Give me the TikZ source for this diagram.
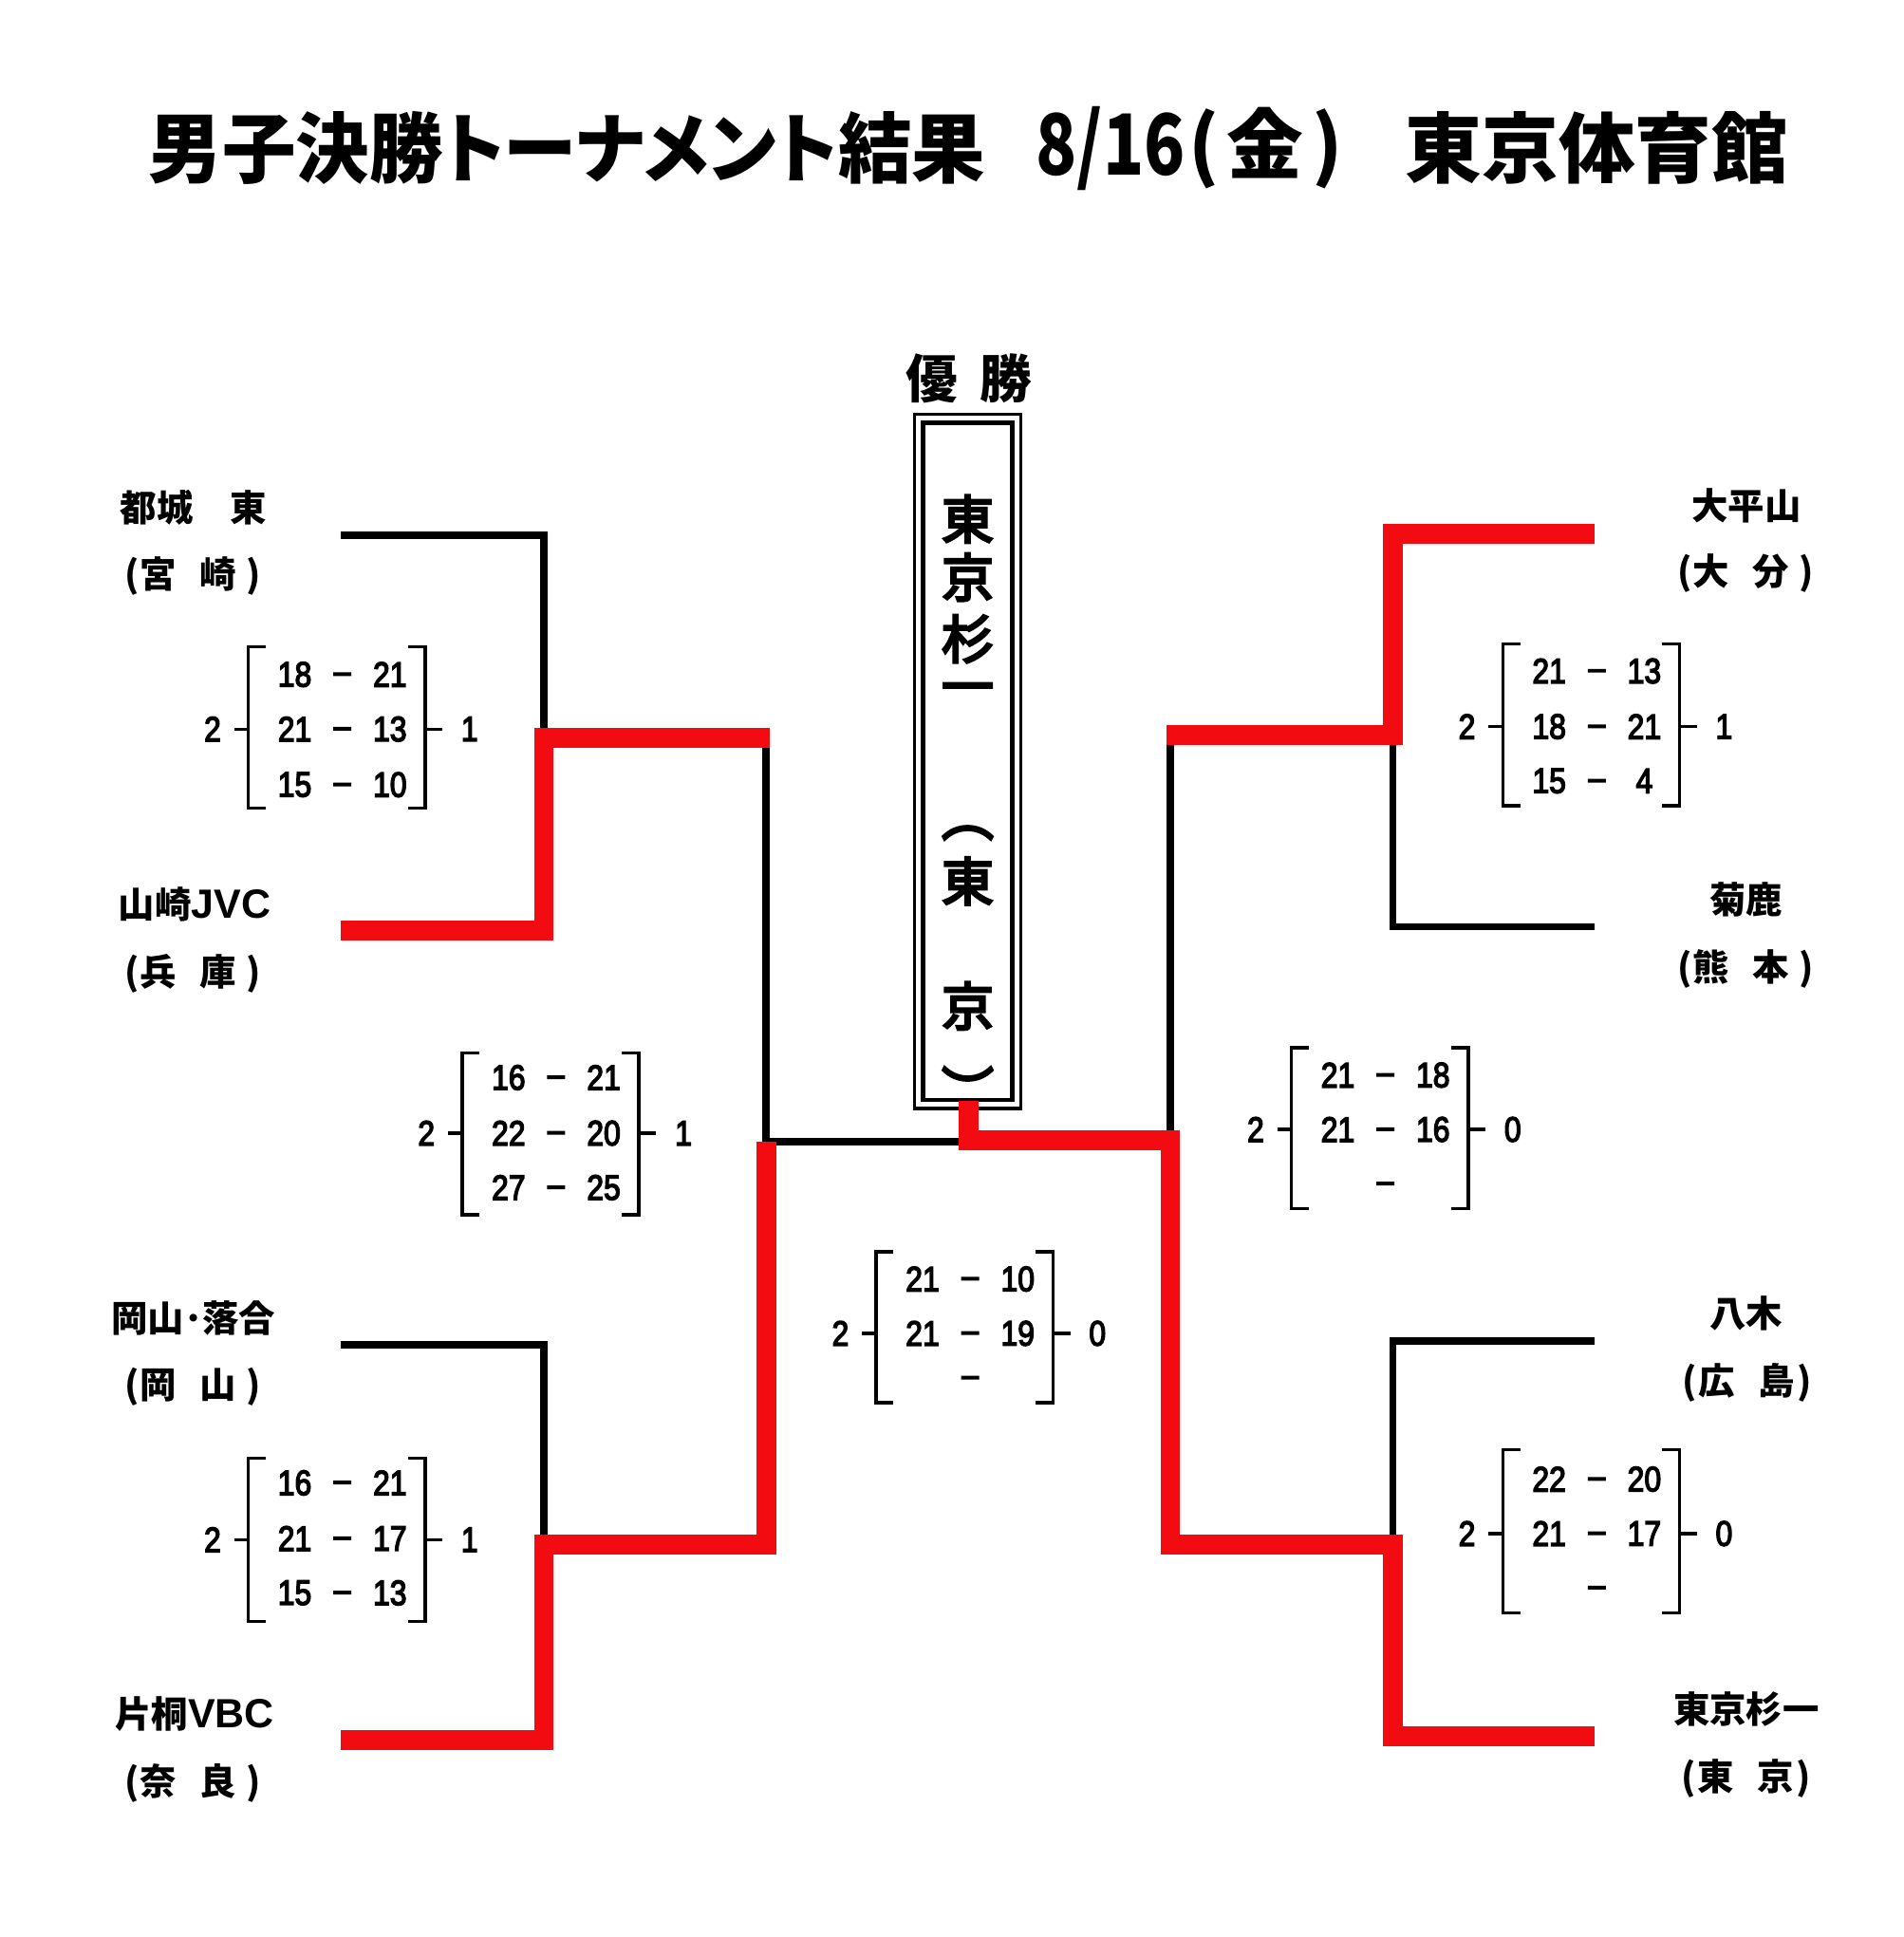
\documentclass[tikz,border=0pt]{standalone}
\usepackage{fontspec}
\usepackage{graphicx}
\newfontfamily\jp{Noto Sans CJK JP}
\newfontfamily\jpm{Noto Sans CJK JP}[FakeBold=5]
\newfontfamily\jpp{Noto Sans CJK JP}[RawFeature=+palt]
\newfontfamily\lat{Liberation Sans}
\newfontfamily\latb{Liberation Sans}[FakeBold=4]
\definecolor{winred}{RGB}{242,12,18}
\newcommand\nm[1]{\scalebox{0.86}[1]{#1}}
\newcommand\dsh{\raisebox{2.8pt}{–}\vphantom{0}}
\newcommand\pref[3]{(\kern1pt#1\kern19pt#2\kern#3pt)}
\newcommand\lt[1]{{\lat\bfseries\fontsize{33}{33}\selectfont#1}}
\tikzset{
  blk/.style={draw=black, line width=6pt},
  win/.style={draw=winred, line width=16pt},
  brk/.style={draw=black, line width=2.6pt},
  team/.style={font=\jp\bfseries\fontsize{29.5}{30}\selectfont, inner sep=0pt},
  sc/.style={font=\latb\fontsize{28.5}{29}\selectfont, inner sep=0pt},
  ttl/.style={font=\jp\bfseries\fontsize{62}{62}\selectfont, inner sep=0pt, anchor=west},
  vt/.style={font=\jpm\fontsize{42}{42}\selectfont, inner sep=0pt},
}
% score row: name, xL, y, a, b
\newcommand\srow[5]{%
  \node[sc] (#1a) at ({#2+37.5},#3) {\nm{#4}};
  \node[sc] (#1d) at ({#2+76},#3) {\nm{\dsh}};
  \node[sc] (#1b) at ({#2+114.5},#3) {\nm{#5}};}
% brackets: name, xL, yT, yB, ym, left, right
\newcommand\sbr[7]{%
  \coordinate (#1tl) at (#2,#3); \coordinate (#1bl) at (#2,#4);
  \coordinate (#1tr) at ({#2+143},#3); \coordinate (#1br) at ({#2+143},#4);
  \coordinate (#1ml) at (#2,#5); \coordinate (#1mr) at ({#2+143},#5);
  \draw[brk] ([xshift=14pt]#1tl) -- (#1tl) -- (#1bl) -- ([xshift=14pt]#1bl);
  \draw[brk] ([xshift=-14pt]#1tr) -- (#1tr) -- (#1br) -- ([xshift=-14pt]#1br);
  \draw[brk] (#1ml) -- ([xshift=-11.5pt]#1ml);
  \draw[brk] (#1mr) -- ([xshift=14pt]#1mr);
  \node[sc] (#1l) at ({#2-29},#5) {\nm{#6}};
  \node[sc] (#1r) at ({#2+179},#5) {\nm{#7}};}
\begin{document}
\begin{tikzpicture}[x=1pt,y=-1pt]
\fill[white] (0,0) rectangle (1540.6,1567.5);
\useasboundingbox (0,0) rectangle (1540.6,1567.5);

% title
\node[ttl, font=\jpp\bfseries\fontsize{62}{62}\selectfont] (t1) at (120,120) {\scalebox{0.96}[1]{男子決勝トーナメント結果}};
\node[ttl] (t2) at (838,120) {\scalebox{0.88}[1.1]{8/16}};
\node[ttl] (t3) at (962,120) {(\kern6pt金\kern7pt)};
\node[ttl] (t4) at (1137,120) {東京体育館};

% champion
\node[font=\jp\bfseries\fontsize{42}{42}\selectfont, inner sep=0pt, anchor=west] (yu) at (733,306) {優\kern18pt勝};
\coordinate (bo1) at (740,335); \coordinate (bo2) at (826,897);
\coordinate (bi1) at (747,342); \coordinate (bi2) at (819,890);
\draw[line width=2.6pt] (bo1) rectangle (bo2);
\draw[line width=3.5pt] (bi1) rectangle (bi2);
\node[vt] (v1) at (783,420) {東};
\node[vt] (v2) at (783,467) {京};
\node[vt] (v3) at (783,517) {杉};
\node[vt] (v4) at (783,562) {一};
\node[vt] (v5) at (783,674) {︵};
\node[vt] (v6) at (783,713) {東};
\node[vt] (v7) at (783,814) {京};
\node[vt] (v8) at (783,881) {︶};

% team names
\node[team] (n1) at (156.5,411) {都城　東};
\node[team] (p1) at (156,466) {\pref{宮}{崎}{8}};
\node[team] (n2) at (157.5,732) {山崎\lt{JVC}};
\node[team] (p2) at (156,788) {\pref{兵}{庫}{8}};
\node[team] (n3) at (156.5,1067) {岡山･落合};
\node[team] (p3) at (156,1122) {\pref{岡}{山}{8}};
\node[team] (n4) at (157.5,1387) {片桐\lt{VBC}};
\node[team] (p4) at (156,1443) {\pref{奈}{良}{8}};
\node[team] (n5) at (1413,409) {大平山};
\node[team] (p5) at (1412.5,464) {\pref{大}{分}{8}};
\node[team] (n6) at (1413,728) {菊鹿};
\node[team] (p6) at (1412.5,784) {\pref{熊}{本}{8}};
\node[team] (n7) at (1413,1063) {八木};
\node[team] (p7) at (1413.5,1119) {\pref{広}{島}{2}};
\node[team] (n8) at (1413,1383) {東京杉一};
\node[team] (p8) at (1413,1439) {\pref{東}{京}{2}};

% bracket coordinates
\coordinate (L1) at (276,433);  \coordinate (L2) at (276,753);
\coordinate (L3) at (276,1088); \coordinate (L4) at (276,1408);
\coordinate (R1) at (1290,432); \coordinate (R2) at (1290,750);
\coordinate (R3) at (1290,1085);\coordinate (R4) at (1290,1405);
\coordinate (a1) at (440,433);  \coordinate (a2) at (440,753);
\coordinate (a3) at (440,1088); \coordinate (a4) at (440,1408);
\coordinate (qa) at (440,597);  \coordinate (qb) at (440,1250);
\coordinate (qae) at (623,597); \coordinate (qbe) at (620,1250);
\coordinate (sl) at (620,597);  \coordinate (slb) at (620,924);
\coordinate (b1) at (1127,432); \coordinate (b2) at (1127,750);
\coordinate (b3) at (1127,1085);\coordinate (b4) at (1127,1405);
\coordinate (qc) at (1127,595); \coordinate (qd) at (1127,1250);
\coordinate (qce) at (944,595); \coordinate (qde) at (947,1250);
\coordinate (sr) at (947,595);  \coordinate (srb) at (947,923);
\coordinate (st) at (783.6,891); \coordinate (sb) at (783.6,923);
\coordinate (sbl) at (783.6,924);

% losing paths (black)
\draw[blk] (L1) -- (a1) -- (qa);
\draw[blk] (L3) -- (a3) -- (qb);
\draw[blk] (R2) -- (b2) -- (qc);
\draw[blk] (R3) -- (b3) -- (qd);
\draw[blk] (sl) -- (slb) -- (sbl);
\draw[blk] (sr) -- (srb);

% winning paths (red)
\draw[win] (L2) -- (a2) -- (qa) -- (qae);
\draw[win] (L4) -- (a4) -- (qb) -- (qbe) -- (slb);
\draw[win] (R1) -- (b1) -- (qc) -- (qce);
\draw[win] (st) -- (sb) -- (srb) -- (qde) -- (qd) -- (b4) -- (R4);

% scores
\sbr{A}{201}{523.5}{654}{590}{2}{1}
\srow{A1}{201}{545.8}{18}{21}
\srow{A2}{201}{590}{21}{13}
\srow{A3}{201}{635}{15}{10}

\sbr{B}{374}{852}{983}{917}{2}{1}
\srow{B1}{374}{872}{16}{21}
\srow{B2}{374}{917}{22}{20}
\srow{B3}{374}{961}{27}{25}

\sbr{C}{201}{1180}{1312}{1246}{2}{1}
\srow{C1}{201}{1200}{16}{21}
\srow{C2}{201}{1245}{21}{17}
\srow{C3}{201}{1289}{15}{13}

\sbr{D}{709}{1013}{1135}{1079}{2}{0}
\srow{D1}{709}{1035}{21}{10}
\srow{D2}{709}{1079}{21}{19}
\node[sc] (D3d) at (785,1115) {\nm{\dsh}};

\sbr{E}{1045}{848}{978}{914}{2}{0}
\srow{E1}{1045}{870}{21}{18}
\srow{E2}{1045}{914}{21}{16}
\node[sc] (E3d) at (1121,958) {\nm{\dsh}};

\sbr{F}{1216}{521}{652}{588}{2}{1}
\srow{F1}{1216}{543}{21}{13}
\srow{F2}{1216}{588}{18}{21}
\srow{F3}{1216}{632}{15}{4}

\sbr{G}{1216}{1173}{1305}{1241}{2}{0}
\srow{G1}{1216}{1197}{22}{20}
\srow{G2}{1216}{1241}{21}{17}
\node[sc] (G3d) at (1292,1285) {\nm{\dsh}};
\end{tikzpicture}
\end{document}
